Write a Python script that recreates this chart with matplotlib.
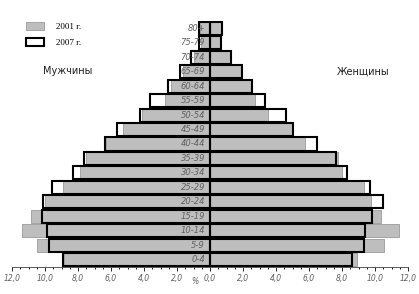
import matplotlib
matplotlib.use('Agg')
import matplotlib.pyplot as plt
from matplotlib.ticker import MultipleLocator, FuncFormatter
from matplotlib.patches import Patch
import numpy as np

ages = ['0-4', '5-9', '10-14', '15-19', '20-24', '25-29', '30-34', '35-39', '40-44',
        '45-49', '50-54', '55-59', '60-64', '65-69', '70-74', '75-79', '80+']

# % of population
men_2001 = [8.85, 10.47, 11.4, 10.85, 10.0, 8.9, 7.87, 7.52, 6.28,
            5.29, 4.1, 2.74, 2.34, 1.66, 1.0, 0.55, 0.6]
men_2007 = [8.88, 9.76, 9.88, 10.16, 10.1, 9.55, 8.29, 7.66, 6.38,
            5.65, 4.27, 3.62, 2.54, 1.83, 1.16, 0.67, 0.65]
women_2001 = [8.88, 10.53, 11.44, 10.35, 9.76, 9.33, 8.0, 7.76, 5.73,
              4.94, 3.52, 2.7, 2.5, 1.89, 1.2, 0.6, 0.65]
women_2007 = [8.62, 9.33, 9.41, 9.8, 10.49, 9.7, 8.31, 7.62, 6.48,
              5.02, 4.59, 3.35, 2.56, 1.95, 1.26, 0.67, 0.72]

gray = '#bebebe'
y = np.arange(len(ages))
h = 0.9

fig = plt.figure(figsize=(4.19, 2.94), dpi=100)
ax = fig.add_axes([12 / 419, 1 - 267 / 294, 396 / 419, 246 / 294])

m01 = -np.array(men_2001)
m07 = -np.array(men_2007)

# 2007 white fill underneath, 2001 gray on top, 2007 outline over everything
ax.barh(y, m07, height=h, color='white', zorder=1)
ax.barh(y, women_2007, height=h, color='white', zorder=1)
ax.barh(y, m01, height=h, color=gray, edgecolor='#9a9a9a', linewidth=0.6, zorder=2)
ax.barh(y, women_2001, height=h, color=gray, edgecolor='#9a9a9a', linewidth=0.6, zorder=2)
ax.barh(y, m07, height=h, fill=False, edgecolor='black', linewidth=1.5, zorder=3)
ax.barh(y, women_2007, height=h, fill=False, edgecolor='black', linewidth=1.5, zorder=3)

for yi, lab in zip(y, ages):
    ax.text(-0.3, yi, lab, ha='right', va='center', fontsize=6, style='italic',
            color='#606060', zorder=4)

ax.set_xlim(-12, 12)
ax.set_ylim(-0.5, len(ages) - 0.5)
ax.xaxis.set_major_locator(MultipleLocator(2))
ax.xaxis.set_minor_locator(MultipleLocator(0.5))
ax.xaxis.set_major_formatter(FuncFormatter(lambda v, p: f'{abs(v):.1f}'.replace('.', ',')))
ax.tick_params(axis='x', which='major', length=3, width=0.6, labelsize=5.5,
               labelcolor='#606060', pad=2)
ax.tick_params(axis='x', which='minor', length=1.5, width=0.6)
for t in ax.get_xticklabels():
    t.set_style('italic')
ax.set_yticks([])
for s in ['top', 'left', 'right']:
    ax.spines[s].set_visible(False)
ax.spines['bottom'].set_linewidth(0.6)
ax.spines['bottom'].set_color('#404040')

fig.text(195 / 419, 1 - 281 / 294, '%', fontsize=5.5, color='#606060', style='italic',
         ha='center', va='center')
fig.text(43 / 419, 1 - 71 / 294, 'Мужчины', fontsize=7, ha='left', va='center', color='#202020')
fig.text(337 / 419, 1 - 72 / 294, 'Женщины', fontsize=7, ha='left', va='center', color='#202020')

handles = [Patch(facecolor=gray, edgecolor='#9a9a9a', linewidth=0.6, label='2001 г.'),
           Patch(facecolor='white', edgecolor='black', linewidth=1.5, label='2007 г.')]
fig.legend(handles=handles, loc='upper left', bbox_to_anchor=(26 / 419, 1 - 22 / 294),
           frameon=False, prop={'family': 'Liberation Serif', 'size': 6.5},
           handlelength=2.0, handleheight=1.0, labelspacing=0.8, handletextpad=1.3,
           borderaxespad=0, borderpad=0)

fig.savefig('out.png', dpi=100)
